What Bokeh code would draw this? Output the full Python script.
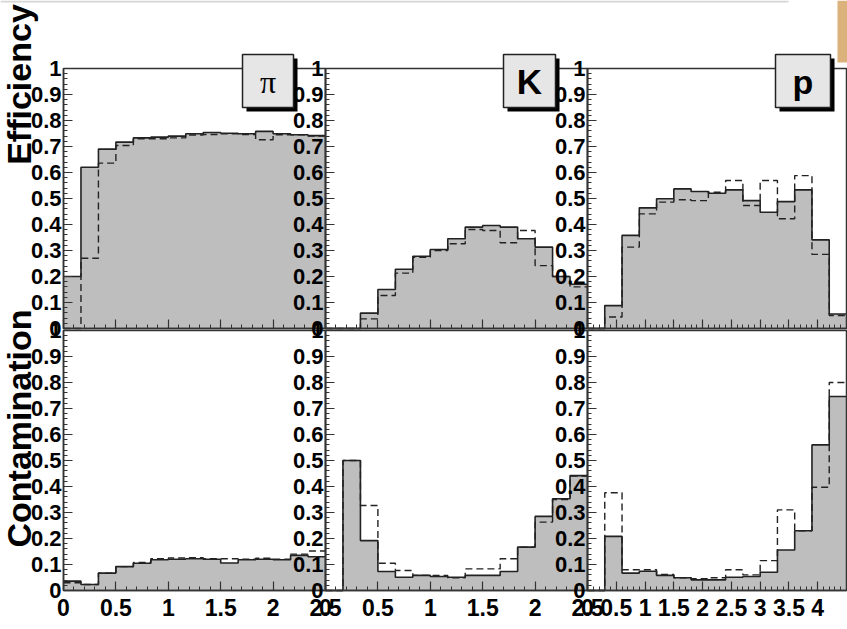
import numpy as np
from bokeh.plotting import figure
from bokeh.models import Range1d, LinearAxis, FixedTicker, CustomJSTickFormatter
from bokeh.core.properties import value
from bokeh.embed import file_html
from bokeh.resources import INLINE

# ---------------- data ----------------
pi_edges = np.linspace(0.0, 2.5, 16)
k_edges = np.linspace(0.0, 2.5, 16)
p_edges = np.linspace(0.0, 4.5, 16)

pi_eff_solid = [0.20, 0.62, 0.69, 0.717, 0.733, 0.736, 0.740, 0.749, 0.754, 0.751, 0.749, 0.758, 0.749, 0.745, 0.742]
pi_eff_dash = [0.0, 0.27, 0.636, 0.704, 0.730, 0.730, 0.733, 0.744, 0.746, 0.749, 0.746, 0.726, 0.745, 0.745, 0.740]
pi_con_solid = [0.036, 0.023, 0.067, 0.092, 0.105, 0.118, 0.120, 0.122, 0.120, 0.106, 0.118, 0.120, 0.118, 0.135, 0.130]
pi_con_dash = [0.030, 0.023, 0.067, 0.092, 0.108, 0.122, 0.125, 0.126, 0.122, 0.122, 0.120, 0.124, 0.120, 0.140, 0.152]

k_eff_solid = [0.0, 0.0, 0.059, 0.150, 0.228, 0.278, 0.304, 0.345, 0.390, 0.396, 0.390, 0.345, 0.313, 0.200, 0.170]
k_eff_dash = [0.0, 0.0, 0.037, 0.127, 0.213, 0.274, 0.300, 0.326, 0.381, 0.377, 0.330, 0.377, 0.242, 0.200, 0.160]
k_con_solid = [0.0, 0.50, 0.192, 0.073, 0.051, 0.058, 0.054, 0.051, 0.058, 0.058, 0.073, 0.167, 0.285, 0.353, 0.442]
k_con_dash = [0.0, 0.50, 0.327, 0.105, 0.077, 0.058, 0.058, 0.049, 0.083, 0.083, 0.122, 0.167, 0.263, 0.350, 0.440]

p_eff_solid = [0.0, 0.088, 0.358, 0.464, 0.499, 0.537, 0.527, 0.520, 0.533, 0.492, 0.447, 0.488, 0.533, 0.341, 0.056]
p_eff_dash = [0.0, 0.044, 0.313, 0.441, 0.486, 0.495, 0.492, 0.524, 0.569, 0.473, 0.569, 0.422, 0.588, 0.285, 0.050]
p_con_solid = [0.0, 0.208, 0.067, 0.074, 0.058, 0.049, 0.041, 0.041, 0.051, 0.054, 0.070, 0.156, 0.230, 0.560, 0.746]
p_con_dash = [0.0, 0.376, 0.080, 0.080, 0.062, 0.049, 0.045, 0.049, 0.080, 0.060, 0.115, 0.310, 0.230, 0.397, 0.800]

y_ticks = [0, 0.1, 0.2, 0.3, 0.4, 0.5, 0.6, 0.7, 0.8, 0.9, 1.0]
pi_x_ticks = [0, 0.5, 1.0, 1.5, 2.0, 2.5]
k_x_ticks = [0, 0.5, 1.0, 1.5, 2.0, 2.5]
p_x_ticks = [0, 0.5, 1.0, 1.5, 2.0, 2.5, 3.0, 3.5, 4.0]
particle_names = ["\u03c0", "K", "p"]
row_titles = ["Efficiency", "Contamination"]

# ---------------- layout (pixel geometry) ----------------
W, H = 847, 629
X0 = {"c1": 63.0, "c2": 325.0, "c3": 587.0}
PPU_X = {"c1": 262.0 / 2.5, "c2": 262.0 / 2.5, "c3": 259.0 / 4.5}
Y0 = {"r1": 328.0, "r2": 590.0}
PPU_Y = 260.0


def gx(col, px):
    return (px - X0[col]) / PPU_X[col]


def gy(row, py):
    return (Y0[row] - py) / PPU_Y


p = figure(width=W, height=H, x_range=Range1d(0, 1), y_range=Range1d(0, 1),
           x_axis_type=None, y_axis_type=None, min_border=0,
           toolbar_location=None, output_backend="svg",
           outline_line_color=None, background_fill_color="white")
p.extra_x_ranges = {c: Range1d(start=gx(c, 0), end=gx(c, W)) for c in X0}
p.extra_y_ranges = {r: Range1d(start=gy(r, H), end=gy(r, 0)) for r in Y0}

GREY = "#bebebe"
LINE = "#222222"
AX = "#333333"

# slide decorations
p.quad(left=gx("c1", 0), right=gx("c1", 788), top=gy("r1", 0), bottom=gy("r1", 2),
       x_range_name="c1", y_range_name="r1", fill_color="#d6d6d6", line_color=None)
p.quad(left=gx("c3", 837), right=gx("c3", 847), top=gy("r1", 0), bottom=gy("r1", 62),
       x_range_name="c3", y_range_name="r1", fill_color="#dcb27c", line_color=None)

panels = [
    ("c1", "r1", pi_edges, pi_eff_solid, pi_eff_dash, pi_x_ticks),
    ("c2", "r1", k_edges, k_eff_solid, k_eff_dash, k_x_ticks),
    ("c3", "r1", p_edges, p_eff_solid, p_eff_dash, p_x_ticks),
    ("c1", "r2", pi_edges, pi_con_solid, pi_con_dash, pi_x_ticks),
    ("c2", "r2", k_edges, k_con_solid, k_con_dash, k_x_ticks),
    ("c3", "r2", p_edges, p_con_solid, p_con_dash, p_x_ticks),
]

fmt_code = "return String(Math.round(tick*10)/10);"

for c, r, edges, solid, dash, xt in panels:
    kw = dict(x_range_name=c, y_range_name=r)
    p.varea_step(x=edges, y1=[0.0] * len(edges), y2=list(solid) + [solid[-1]],
                 step_mode="after", fill_color=GREY, **kw)
    p.step(x=edges, y=list(solid) + [solid[-1]], mode="after",
           line_color=LINE, line_width=1.6, **kw)
    p.step(x=edges, y=list(dash) + [dash[-1]], mode="after",
           line_color=LINE, line_width=1.4, line_dash="7 4", **kw)
    # frame
    p.quad(left=edges[0], right=edges[-1], bottom=0, top=1, fill_color=None,
           line_color=AX, line_width=1.5, **kw)

    # y axis
    yax = LinearAxis(x_range_name=c, y_range_name=r, fixed_location=0, bounds=(0, 1),
                     ticker=FixedTicker(ticks=y_ticks,
                                        minor_ticks=[round(0.02 * i, 2) for i in range(51)]),
                     formatter=CustomJSTickFormatter(code=fmt_code))
    # x axis
    xmax = edges[-1]
    xax = LinearAxis(x_range_name=c, y_range_name=r, fixed_location=0, bounds=(0, xmax),
                     ticker=FixedTicker(ticks=xt,
                                        minor_ticks=[round(0.1 * i, 1) for i in range(int(round(xmax * 10)) + 1)]),
                     formatter=CustomJSTickFormatter(code=fmt_code))
    for ax, size in ((yax, "22px"), (xax, "23px")):
        ax.axis_line_color = AX
        ax.axis_line_width = 1.5
        ax.major_tick_in = 9
        ax.major_tick_out = 0
        ax.minor_tick_in = 4
        ax.minor_tick_out = 0
        ax.major_tick_line_color = AX
        ax.minor_tick_line_color = AX
        ax.major_tick_line_width = 1.2
        ax.minor_tick_line_width = 1
        ax.major_label_text_font = "Liberation Sans"
        ax.major_label_text_font_style = "bold"
        ax.major_label_text_font_size = size
        ax.major_label_text_color = "black"
    yax.major_label_standoff = 2
    xax.major_label_standoff = 8
    if r == "r1":
        xax.major_label_text_color = None
    p.add_layout(yax, "left")
    p.add_layout(xax, "below")

# particle label boxes
boxes = [("c1", 242, 293, particle_names[0], "Liberation Serif", "normal", "32px"),
         ("c2", 503, 555, particle_names[1], "Liberation Sans", "bold", "35px"),
         ("c3", 775, 830, particle_names[2], "Liberation Sans", "bold", "34px")]
for c, x0, x1, name, font, style, size in boxes:
    kw = dict(x_range_name=c, y_range_name="r1")
    p.quad(left=gx(c, x0 + 4), right=gx(c, x1 + 4), top=gy("r1", 58), bottom=gy("r1", 111),
           fill_color="black", line_color=None, **kw)
    p.quad(left=gx(c, x0), right=gx(c, x1), top=gy("r1", 54), bottom=gy("r1", 107),
           fill_color="#e6e6e6", line_color=LINE, line_width=1.5, **kw)
    p.text(x=[gx(c, (x0 + x1) / 2)], y=[gy("r1", 81)], text=[name],
           text_font=value(font), text_font_style=style, text_font_size=size,
           text_align="center", text_baseline="middle", text_color="black", **kw)

# row titles
for row, py, title in (("r1", 84, row_titles[0]), ("r2", 428, row_titles[1])):
    p.text(x=[gx("c1", 18)], y=[gy(row, py)], text=[title], angle=np.pi / 2,
           text_font=value("Liberation Sans"), text_font_style="bold", text_font_size="34px",
           text_align="center", text_baseline="middle", text_color="black",
           x_range_name="c1", y_range_name=row)

open("out.html", "w").write(file_html(p, INLINE))
